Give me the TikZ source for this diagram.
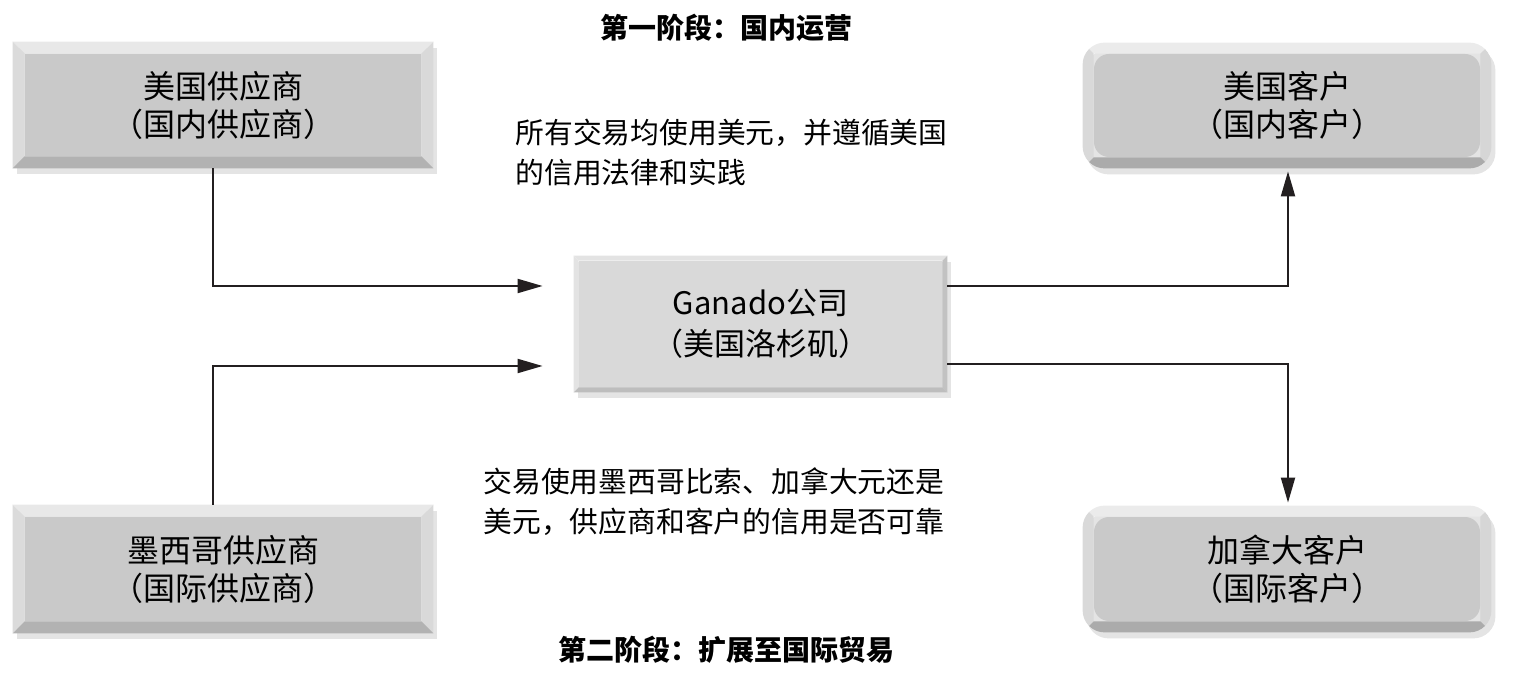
\documentclass[tikz,border=0pt]{standalone}
\usepackage{fontspec}
\setmainfont{Noto Sans CJK SC}
\usepackage{tikz}
\usetikzlibrary{shapes,positioning,arrows.meta,calc}
\pgfdeclarelayer{background}
\pgfsetlayers{background,main}

\definecolor{facegray}{HTML}{C9C9C9}
\definecolor{midgray}{HTML}{D9D9D9}
\definecolor{shadowgray}{HTML}{E4E4E4}
\definecolor{linkblack}{HTML}{231F20}

\tikzset{
  face/.style = {rectangle, fill=facegray, inner sep=0pt, align=center, font=\fontsize{16}{19}\selectfont},
  roundface/.style = {face, rounded corners=7.5pt},
  midface/.style = {face, fill=midgray, font=\fontsize{15.5}{20.5}\selectfont},
  link/.style = {line width=1pt, draw=linkblack, -{Triangle[length=12.5pt,width=7pt]}},
  stage/.style = {inner sep=0pt, font=\bfseries\fontsize{14}{17}\selectfont},
  note/.style = {inner sep=0pt, align=left, font=\fontsize{14.4}{20}\selectfont}
}

\newcommand{\bevelbox}[7]{%
  \path (#1.north west) ++(-#2,-#2) coordinate (#1-nw);
  \path (#1.south east) ++(#2,#2) coordinate (#1-se);
  \coordinate (#1-sw) at (#1-nw |- #1-se);
  \coordinate (#1-ne) at (#1-se |- #1-nw);
  \begin{pgfonlayer}{background}
    \fill [shadowgray, rounded corners=#3] ($(#1-nw)+(4,6)$) rectangle ($(#1-se)+(4,6)$);
    \begin{scope}
      \clip [rounded corners=#3] (#1-nw) rectangle (#1-se);
      \fill [#4] (#1-nw) -- (#1-ne) -- (#1.north east) -- (#1.north west) -- cycle;
      \fill [#5] (#1-nw) -- (#1.north west) -- (#1.south west) -- (#1-sw) -- cycle;
      \fill [#6] (#1-ne) -- (#1-se) -- (#1.south east) -- (#1.north east) -- cycle;
      \fill [#7] (#1-sw) -- (#1.south west) -- (#1.south east) -- (#1-se) -- cycle;
    \end{scope}
  \end{pgfonlayer}
}

\begin{document}
\begin{tikzpicture}[x=0.5pt, y=-0.5pt]
        \useasboundingbox (0,0) rectangle (1520,678);
        \node [face, minimum width=198pt, minimum height=51pt] (ussup) at (223,105) {美国供应商\\（国内供应商）};
        \node [face, minimum width=198pt, minimum height=52pt] (mxsup) at (223,569) {墨西哥供应商\\（国际供应商）};
        \node [midface, minimum width=181.5pt, minimum height=63pt] (ganado) at (760.5,324) {Ganado公司\\（美国洛杉矶）};
        \node [roundface, minimum width=193pt, minimum height=51.5pt] (uscus) at (1287,105.5) {美国客户\\（国内客户）};
        \node [roundface, minimum width=193pt, minimum height=52pt] (cacus) at (1287,569) {加拿大客户\\（国际客户）};
        \bevelbox{ussup}{12}{0pt}{fill=black!9}{fill=black!14}{fill=black!15}{fill=black!30}
        \bevelbox{mxsup}{12}{0pt}{fill=black!9}{fill=black!14}{fill=black!15}{fill=black!30}
        \bevelbox{ganado}{5}{0pt}{fill=black!11}{fill=black!11}{fill=black!24}{fill=black!26}
        \bevelbox{uscus}{11}{11pt}{fill=black!8}{fill=black!15}{fill=black!16}{fill=black!33}
        \bevelbox{cacus}{11}{11pt}{fill=black!8}{fill=black!15}{fill=black!16}{fill=black!33}
        \coordinate (ganin1) at ($(ganado.west)+(-36,-38)$);
        \coordinate (ganin2) at ($(ganado.west)+(-36,42)$);
        \draw [link] ($(ussup.south)+(-10,12)$) |- (ganin1);
        \draw [link] ($(mxsup.north)+(-10,-12)$) |- (ganin2);
        \draw [link] ($(ganado.east)+(5,-38)$) -| ($(uscus.south)+(1,14)$);
        \draw [link] ($(ganado.east)+(5,40)$) -| ($(cacus.north)+(1,-14)$);
        \node [stage] (stage1) at (726,28) {第一阶段：国内运营};
        \node [note, anchor=west] (note1) at (515,153) {所有交易均使用美元，并遵循美国\\的信用法律和实践};
        \node [note, anchor=west] (note2) at (483,502) {交易使用墨西哥比索、加拿大元还是\\美元，供应商和客户的信用是否可靠};
        \node [stage] (stage2) at (726,650) {第二阶段：扩展至国际贸易};
\end{tikzpicture}
\end{document}
